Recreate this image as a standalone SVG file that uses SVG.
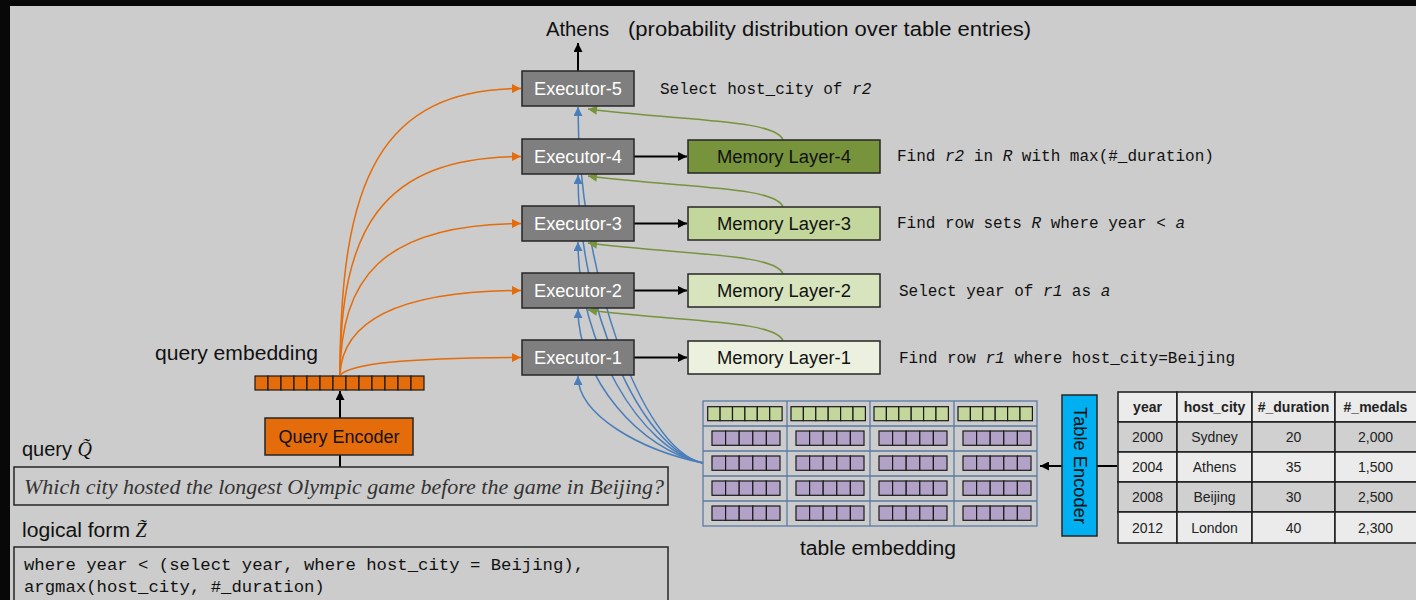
<svg xmlns="http://www.w3.org/2000/svg" width="1416" height="600" viewBox="0 0 1416 600">
<style>
.sans{font-family:"Liberation Sans",Arial,sans-serif}
.mono{font-family:"Liberation Mono","DejaVu Sans Mono",monospace}
.exec rect{fill:#7f7f7f;stroke:#262626;stroke-width:1.5}
.exec text{fill:#ffffff;font-size:18px;text-anchor:middle}
.mem rect{stroke:#262626;stroke-width:1.5}
.mem text{fill:#111;font-size:18px;text-anchor:middle}
.note{font-size:16px;fill:#111}
.it{font-style:italic}
.or{fill:none;stroke:#e46c0a;stroke-width:1.5}
.bl{fill:none;stroke:#4a7ebb;stroke-width:1.5}
.gr{fill:none;stroke:#77933c;stroke-width:1.5}
.bk{fill:none;stroke:#000;stroke-width:2}
.gc{fill:#c3d69b;stroke:#1a1a1a;stroke-width:1.2}
.pc{fill:#b3a2c7;stroke:#1a1a1a;stroke-width:1.2}
.oc{fill:#e46c0a;stroke:#1a1a1a;stroke-width:1.2}
.tb rect{stroke:#1a1a1a;stroke-width:1.5}
.tb text{font-size:14px;text-anchor:middle;fill:#222}
.hdr{font-weight:bold}
</style>
<defs>
<marker id="aO" viewBox="0 0 10 10" refX="10" refY="5" markerWidth="11" markerHeight="9" markerUnits="userSpaceOnUse" orient="auto"><path d="M0,0 L10,5 L0,10 z" fill="#e46c0a"/></marker>
<marker id="aB" viewBox="0 0 10 10" refX="10" refY="5" markerWidth="12" markerHeight="9" markerUnits="userSpaceOnUse" orient="auto"><path d="M0,0 L10,5 L0,10 z" fill="#4a7ebb"/></marker>
<marker id="aG" viewBox="0 0 10 10" refX="10" refY="5" markerWidth="11" markerHeight="9" markerUnits="userSpaceOnUse" orient="auto"><path d="M0,0 L10,5 L0,10 z" fill="#77933c"/></marker>
<marker id="aK" viewBox="0 0 10 10" refX="10" refY="5" markerWidth="12" markerHeight="9" markerUnits="userSpaceOnUse" orient="auto"><path d="M0,0 L10,5 L0,10 z" fill="#000"/></marker>
<g id="grow">
<rect class="gc" x="0" y="0" width="12.4" height="14"/><rect class="gc" x="12.4" y="0" width="12.4" height="14"/><rect class="gc" x="24.8" y="0" width="12.4" height="14"/><rect class="gc" x="37.2" y="0" width="12.4" height="14"/><rect class="gc" x="49.6" y="0" width="12.4" height="14"/><rect class="gc" x="62" y="0" width="12.4" height="14"/>
</g>
<g id="prow">
<rect class="pc" x="0" y="0" width="13.6" height="14.3"/><rect class="pc" x="13.6" y="0" width="13.6" height="14.3"/><rect class="pc" x="27.2" y="0" width="13.6" height="14.3"/><rect class="pc" x="40.8" y="0" width="13.6" height="14.3"/><rect class="pc" x="54.4" y="0" width="13.6" height="14.3"/>
</g>
</defs>

<rect x="0" y="0" width="1416" height="600" fill="#cccccc"/>
<rect x="0" y="0" width="1416" height="6" fill="#080808"/>
<rect x="0" y="0" width="10" height="600" fill="#080808"/>

<g id="connectors">
<path class="bk" d="M578,71 L578,43" marker-end="url(#aK)"/>
<path class="bk" d="M634,156.5 L687,156.5" marker-end="url(#aK)"/>
<path class="bk" d="M634,223.5 L687,223.5" marker-end="url(#aK)"/>
<path class="bk" d="M634,290.5 L687,290.5" marker-end="url(#aK)"/>
<path class="bk" d="M634,357.5 L687,357.5" marker-end="url(#aK)"/>
<path class="bk" d="M340,418 L340,391" marker-end="url(#aK)"/>
<path class="bk" d="M340,467 L340,455"/>
<path class="bk" d="M1117,466 L1040,466" marker-end="url(#aK)"/>
<path class="or" d="M340,375 C352,364 400,358 521,357.5" marker-end="url(#aO)"/>
<path class="or" d="M340,375 C342,325 390,291 521,290.5" marker-end="url(#aO)"/>
<path class="or" d="M340,375 C341,280 380,224 521,223.5" marker-end="url(#aO)"/>
<path class="or" d="M340,375 C340,230 380,157 521,156.5" marker-end="url(#aO)"/>
<path class="or" d="M340,375 C340,180 380,89 521,88.5" marker-end="url(#aO)"/>
<path class="bl" d="M703,463 C640,450 578,415 578,376" marker-end="url(#aB)"/>
<path class="bl" d="M703,463 C640,450 578,378 578,309" marker-end="url(#aB)"/>
<path class="bl" d="M703,463 C640,450 578,341 578,242" marker-end="url(#aB)"/>
<path class="bl" d="M703,463 C640,450 578,305 578,175" marker-end="url(#aB)"/>
<path class="bl" d="M703,463 C640,450 578,267 578,107" marker-end="url(#aB)"/>
<path class="gr" d="M783,341 C776,320 680,322 588,310" marker-end="url(#aG)"/>
<path class="gr" d="M783,274 C776,253 680,255 588,243" marker-end="url(#aG)"/>
<path class="gr" d="M783,207 C776,186 680,188 588,176" marker-end="url(#aG)"/>
<path class="gr" d="M783,140 C776,119 680,121 588,109" marker-end="url(#aG)"/>
</g>

<g id="output-label" class="sans" font-size="20" fill="#111">
<text x="546" y="36" textLength="63" lengthAdjust="spacingAndGlyphs">Athens</text>
<text x="628" y="36" textLength="403" lengthAdjust="spacingAndGlyphs">(probability distribution over table entries)</text>
</g>

<g id="executor-5" class="exec sans"><rect x="522" y="71" width="112" height="35"/><text x="578" y="94.5" textLength="88" lengthAdjust="spacingAndGlyphs">Executor-5</text></g>
<g id="executor-4" class="exec sans"><rect x="522" y="139" width="112" height="35"/><text x="578" y="162.5" textLength="88" lengthAdjust="spacingAndGlyphs">Executor-4</text></g>
<g id="executor-3" class="exec sans"><rect x="522" y="206" width="112" height="35"/><text x="578" y="229.5" textLength="88" lengthAdjust="spacingAndGlyphs">Executor-3</text></g>
<g id="executor-2" class="exec sans"><rect x="522" y="273" width="112" height="35"/><text x="578" y="296.5" textLength="88" lengthAdjust="spacingAndGlyphs">Executor-2</text></g>
<g id="executor-1" class="exec sans"><rect x="522" y="340" width="112" height="35"/><text x="578" y="363.5" textLength="88" lengthAdjust="spacingAndGlyphs">Executor-1</text></g>

<g id="memory-4" class="mem sans"><rect x="688" y="140" width="192" height="33" fill="#77933c"/><text x="784" y="162.5" textLength="134" lengthAdjust="spacingAndGlyphs">Memory Layer-4</text></g>
<g id="memory-3" class="mem sans"><rect x="688" y="207" width="192" height="33" fill="#c3d69b"/><text x="784" y="229.5" textLength="134" lengthAdjust="spacingAndGlyphs">Memory Layer-3</text></g>
<g id="memory-2" class="mem sans"><rect x="688" y="274" width="192" height="33" fill="#d7e4bd"/><text x="784" y="296.5" textLength="134" lengthAdjust="spacingAndGlyphs">Memory Layer-2</text></g>
<g id="memory-1" class="mem sans"><rect x="688" y="341" width="192" height="33" fill="#ebf1de"/><text x="784" y="363.5" textLength="134" lengthAdjust="spacingAndGlyphs">Memory Layer-1</text></g>

<g id="step-notes" class="mono note">
<text x="660" y="94">Select host_city of <tspan class="it">r2</tspan></text>
<text x="897" y="161">Find <tspan class="it">r2</tspan> in <tspan class="it">R</tspan> with max(#_duration)</text>
<text x="897" y="228">Find row sets <tspan class="it">R</tspan> where year &lt; <tspan class="it">a</tspan></text>
<text x="899" y="296">Select year of <tspan class="it">r1</tspan> as <tspan class="it">a</tspan></text>
<text x="899" y="363">Find row <tspan class="it">r1</tspan> where host_city=Beijing</text>
</g>

<g id="query-embedding">
<text class="sans" x="155" y="360" font-size="20" fill="#111" textLength="163" lengthAdjust="spacingAndGlyphs">query embedding</text>
<rect class="oc" x="255" y="376" width="13" height="14"/><rect class="oc" x="268" y="376" width="13" height="14"/><rect class="oc" x="281" y="376" width="13" height="14"/><rect class="oc" x="294" y="376" width="13" height="14"/><rect class="oc" x="307" y="376" width="13" height="14"/><rect class="oc" x="320" y="376" width="13" height="14"/><rect class="oc" x="333" y="376" width="13" height="14"/><rect class="oc" x="346" y="376" width="13" height="14"/><rect class="oc" x="359" y="376" width="13" height="14"/><rect class="oc" x="372" y="376" width="13" height="14"/><rect class="oc" x="385" y="376" width="13" height="14"/><rect class="oc" x="398" y="376" width="13" height="14"/><rect class="oc" x="411" y="376" width="13" height="14"/>
</g>

<g id="query-encoder">
<rect x="265" y="418" width="148" height="37" fill="#e46c0a" stroke="#262626" stroke-width="1.5"/>
<text class="sans" x="339" y="443" font-size="18" fill="#111" text-anchor="middle" textLength="121" lengthAdjust="spacingAndGlyphs">Query Encoder</text>
</g>

<g id="query">
<text class="sans" x="22" y="456" font-size="20" fill="#111">query <tspan font-family="Liberation Serif" font-style="italic">Q̃</tspan></text>
<rect x="14" y="467" width="654" height="38" fill="none" stroke="#262626" stroke-width="1.5"/>
<text x="24" y="494" font-family="Liberation Serif" font-style="italic" font-size="22" fill="#333" textLength="640" lengthAdjust="spacingAndGlyphs">Which city hosted the longest Olympic game before the game in Beijing?</text>
</g>

<g id="logical-form">
<text class="sans" x="22" y="537" font-size="20" fill="#111"><tspan textLength="108" lengthAdjust="spacingAndGlyphs">logical form</tspan> <tspan font-family="Liberation Serif" font-style="italic">Z̃</tspan></text>
<rect x="14" y="547" width="654" height="60" fill="none" stroke="#262626" stroke-width="1.5"/>
<text class="mono" x="24" y="570" font-size="17.3" fill="#111">where year &lt; (select year, where host_city = Beijing),</text>
<text class="mono" x="24" y="592" font-size="17.3" fill="#111">argmax(host_city, #_duration)</text>
</g>

<g id="table-embedding">
<rect x="703" y="401" width="334" height="125" fill="none" stroke="#5b7ba3" stroke-width="1.3"/>
<path d="M787,401 V526 M870,401 V526 M954,401 V526 M703,426 H1037 M703,451 H1037 M703,476 H1037 M703,501 H1037" stroke="#5b7ba3" stroke-width="1.3" fill="none"/>
<use href="#grow" x="707.7" y="406.7"/><use href="#grow" x="791" y="406.7"/><use href="#grow" x="874" y="406.7"/><use href="#grow" x="958" y="406.7"/>
<use href="#prow" x="712" y="431"/><use href="#prow" x="796" y="431"/><use href="#prow" x="879" y="431"/><use href="#prow" x="963" y="431"/>
<use href="#prow" x="712" y="456"/><use href="#prow" x="796" y="456"/><use href="#prow" x="879" y="456"/><use href="#prow" x="963" y="456"/>
<use href="#prow" x="712" y="481"/><use href="#prow" x="796" y="481"/><use href="#prow" x="879" y="481"/><use href="#prow" x="963" y="481"/>
<use href="#prow" x="712" y="506"/><use href="#prow" x="796" y="506"/><use href="#prow" x="879" y="506"/><use href="#prow" x="963" y="506"/>
<text class="sans" x="800" y="555" font-size="20" fill="#111" textLength="156" lengthAdjust="spacingAndGlyphs">table embedding</text>
</g>

<g id="table-encoder">
<rect x="1062" y="395" width="35" height="141" fill="#00b0f0" stroke="#262626" stroke-width="1.5"/>
<text class="sans" transform="translate(1079.5,465.5) rotate(90)" x="0" y="6" font-size="18" fill="#111" text-anchor="middle" textLength="117" lengthAdjust="spacingAndGlyphs">Table Encoder</text>
</g>

<g id="table" class="tb sans">
<rect x="1118" y="392" width="59" height="30" fill="#ebebeb"/><rect x="1177" y="392" width="75" height="30" fill="#ebebeb"/><rect x="1252" y="392" width="83" height="30" fill="#ebebeb"/><rect x="1335" y="392" width="82" height="30" fill="#ebebeb"/>
<rect x="1118" y="422" width="59" height="30" fill="#d0d0d0"/><rect x="1177" y="422" width="75" height="30" fill="#d0d0d0"/><rect x="1252" y="422" width="83" height="30" fill="#d0d0d0"/><rect x="1335" y="422" width="82" height="30" fill="#d0d0d0"/>
<rect x="1118" y="452" width="59" height="30" fill="#ebebeb"/><rect x="1177" y="452" width="75" height="30" fill="#ebebeb"/><rect x="1252" y="452" width="83" height="30" fill="#ebebeb"/><rect x="1335" y="452" width="82" height="30" fill="#ebebeb"/>
<rect x="1118" y="482" width="59" height="30" fill="#d0d0d0"/><rect x="1177" y="482" width="75" height="30" fill="#d0d0d0"/><rect x="1252" y="482" width="83" height="30" fill="#d0d0d0"/><rect x="1335" y="482" width="82" height="30" fill="#d0d0d0"/>
<rect x="1118" y="512" width="59" height="31" fill="#ebebeb"/><rect x="1177" y="512" width="75" height="31" fill="#ebebeb"/><rect x="1252" y="512" width="83" height="31" fill="#ebebeb"/><rect x="1335" y="512" width="82" height="31" fill="#ebebeb"/>
<text class="hdr" x="1147.5" y="412" font-size="13.5">year</text><text class="hdr" x="1214.5" y="412" font-size="13.5">host_city</text><text class="hdr" x="1293.5" y="412" font-size="13.5">#_duration</text><text class="hdr" x="1375.5" y="412" font-size="13.5">#_medals</text>
<text x="1147.5" y="442">2000</text><text x="1214.5" y="442">Sydney</text><text x="1293.5" y="442">20</text><text x="1375.5" y="442">2,000</text>
<text x="1147.5" y="472">2004</text><text x="1214.5" y="472">Athens</text><text x="1293.5" y="472">35</text><text x="1375.5" y="472">1,500</text>
<text x="1147.5" y="502">2008</text><text x="1214.5" y="502">Beijing</text><text x="1293.5" y="502">30</text><text x="1375.5" y="502">2,500</text>
<text x="1147.5" y="532.5">2012</text><text x="1214.5" y="532.5">London</text><text x="1293.5" y="532.5">40</text><text x="1375.5" y="532.5">2,300</text>
</g>
</svg>
